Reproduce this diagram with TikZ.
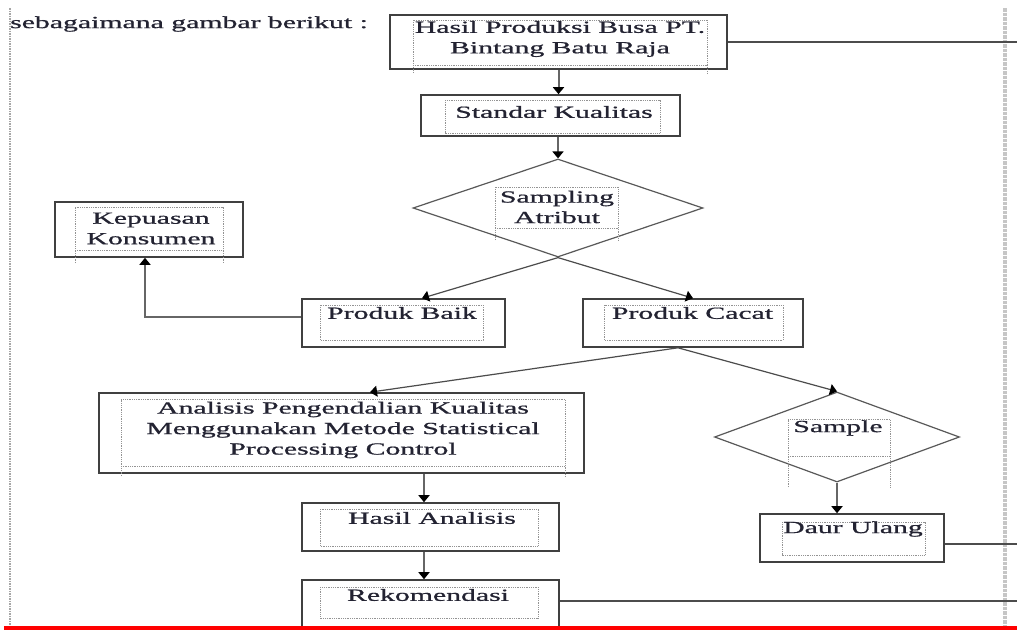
\documentclass[tikz,border=0pt]{standalone}
\usepackage{fontspec}
\setmainfont{Liberation Serif}[FakeBold=0.7]
\usepackage{graphicx}
\usetikzlibrary{shapes.geometric,arrows.meta,calc}
\newcommand{\stx}[1]{\scalebox{1.75}[1]{#1}}
\definecolor{txt}{RGB}{35,35,50}
\begin{document}
\begin{tikzpicture}[x=1pt,y=-1pt,
  outer/.style={draw=black!75,line width=1.6pt,rectangle,inner sep=0pt},
  innerbox/.style={draw=gray!85,densely dotted,line width=0.8pt},
  lbl/.style={font=\fontsize{17}{20.5}\selectfont,text=txt,inner sep=0pt,align=center},
  dia/.style={draw=black!65,line width=1.2pt,diamond,inner sep=0pt},
  conn/.style={draw=black!70,line width=1.2pt},
  arr/.style={conn,-{Triangle[width=11pt,length=7pt,black]}},
  varr/.style={draw=black!60,line width=2pt,-{Triangle[width=11pt,length=7pt,black]}}
]
\useasboundingbox (0,0) rectangle (1017,630);
\fill[white] (0,0) rectangle (1017,630);

% page margin guides
\draw[gray!70,densely dotted,line width=1.5pt] (10,8) -- (10,626);
\draw[gray!45,densely dotted,line width=3.5pt] (1005,8) -- (1005,626);

% intro text
\node[lbl,anchor=west] (intro) at (10,24) {\stx{sebagaimana gambar berikut :}};

% outer shapes
\node[outer,minimum width=337pt,minimum height=54pt] (hasil) at (558.5,42) {};
\node[outer,minimum width=259pt,minimum height=41pt] (standar) at (550.5,115.5) {};
\node[dia,minimum width=290pt,minimum height=98pt] (sampling) at (558,208) {};
\node[outer,minimum width=188pt,minimum height=55pt] (kepuasan) at (149,229.5) {};
\node[outer,minimum width=203pt,minimum height=48pt] (baik) at (403.5,323) {};
\node[outer,minimum width=220pt,minimum height=48pt] (cacat) at (693,323) {};
\node[outer,minimum width=485pt,minimum height=80pt] (analisis) at (341.5,433) {};
\node[dia,minimum width=245pt,minimum height=90pt] (sample) at (837,437) {};
\node[outer,minimum width=257pt,minimum height=48pt] (hasilan) at (430.5,527) {};
\node[outer,minimum width=257pt,minimum height=48pt] (rekom) at (430.5,604) {};
\node[outer,minimum width=184pt,minimum height=48pt] (daur) at (852,538) {};

% inner dotted text frames
\draw[innerbox] (413,73) -- (413,20) -- (707,20) -- (707,73) (413,65) -- (707,65);
\draw[innerbox] (445,100) rectangle (660,133);
\draw[innerbox] (495,240) -- (495,187) -- (618,187) -- (618,240) (495,228) -- (618,228);
\draw[innerbox] (75,263) -- (75,207) -- (223,207) -- (223,263) (75,250) -- (223,250);
\draw[innerbox] (320,305) rectangle (483,340);
\draw[innerbox] (604,305) rectangle (783,340);
\draw[innerbox] (121,476) -- (121,399) -- (565,399) -- (565,476) (121,466) -- (565,466);
\draw[innerbox] (788,487) -- (788,419) -- (890,419) -- (890,487) (788,456) -- (890,456);
\draw[innerbox] (320,509) rectangle (538,546);
\draw[innerbox] (320,587) rectangle (538,618);
\draw[innerbox] (782,522) rectangle (925,555);

% labels
\node[lbl] (thasil) at (560,39) {\stx{Hasil Produksi Busa PT.}\\\stx{Bintang Batu Raja}};
\node[lbl] (tstandar) at (554,112) {\stx{Standar Kualitas}};
\node[lbl] (tsampling) at (557,207) {\stx{Sampling}\\\stx{Atribut}};
\node[lbl] (tkepuasan) at (151,228.5) {\stx{Kepuasan}\\\stx{Konsumen}};
\node[lbl] (tbaik) at (402,313) {\stx{Produk Baik}};
\node[lbl] (tcacat) at (692.5,313) {\stx{Produk Cacat}};
\node[lbl] (tanalisis) at (343,430) {\stx{Analisis Pengendalian Kualitas}\\\stx{Menggunakan Metode Statistical}\\\stx{Processing Control}};
\node[lbl] (tsample) at (838,428) {\stx{Sample}};
\node[lbl] (thasilan) at (432,518) {\stx{Hasil Analisis}};
\node[lbl] (trekom) at (428,595) {\stx{Rekomendasi}};
\node[lbl] (tdaur) at (853,529) {\stx{Daur Ulang}};

% free ends on the right
\coordinate (e1) at (1017,42);
\coordinate (e2) at (1017,544);
\coordinate (e3) at (1017,601);

% connectors
\draw[varr] (hasil.south) -- (hasil.south |- standar.north);
\draw[varr] (sampling.north |- standar.south) -- (sampling.north);
\draw[arr] (sampling.south) -- ([xshift=18.5pt]baik.north);
\draw[arr] (sampling.south) -- (cacat.north);
\draw[varr] ([yshift=6pt]baik.west) -| ([xshift=-4pt]kepuasan.south);
\draw[arr] ([xshift=-15pt]cacat.south) -- ([xshift=28.5pt]analisis.north);
\draw[arr] ([xshift=-15pt]cacat.south) -- (sample.north);
\draw[varr] ([xshift=-6.5pt]hasilan.north |- analisis.south) -- ([xshift=-6.5pt]hasilan.north);
\draw[varr] ([xshift=-6.5pt]rekom.north |- hasilan.south) -- ([xshift=-6.5pt]rekom.north);
\draw[varr] (sample.south) -- (sample.south |- daur.north);
\draw[conn] (hasil.east) -- (e1);
\draw[conn] ([yshift=-6pt]daur.east) -- (e2);
\draw[conn] ([yshift=3pt]rekom.east) -- (e3);

% bottom red rule
\draw[red,line width=4pt] (4,628) -- (1017,628);
\end{tikzpicture}
\end{document}
